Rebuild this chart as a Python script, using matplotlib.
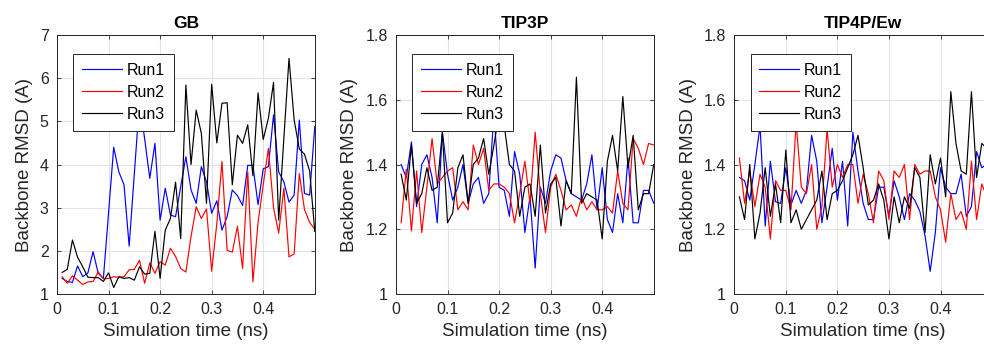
import numpy as np
import matplotlib
matplotlib.use("Agg")
import matplotlib.pyplot as plt

plt.rcParams['font.family'] = ['Liberation Sans', 'DejaVu Sans']

# simulation time (ns), one sample every 0.01 ns
time_ns = [round(0.01 * k, 2) for k in range(1, 51)]

titles = ["GB", "TIP3P", "TIP4P/Ew"]
run_names = ["Run1", "Run2", "Run3"]
run_colors = ["#0000ff", "#ff0000", "#000000"]

# GB
gb_run1 = [1.36, 1.29, 1.27, 1.65, 1.40, 1.49, 1.98, 1.48, 1.36, 2.87,
           4.40, 3.83, 3.53, 2.11, 3.78, 5.45, 4.60, 3.68, 4.49, 2.71,
           3.45, 2.83, 2.79, 3.49, 4.18, 3.41, 3.10, 3.95, 3.60, 2.87,
           3.16, 2.48, 2.79, 3.41, 3.28, 3.05, 3.98, 3.98, 3.07, 3.90,
           3.95, 5.15, 3.83, 3.60, 3.13, 3.29, 5.03, 3.33, 3.29, 4.88]
gb_run2 = [1.40, 1.25, 1.42, 1.32, 1.22, 1.28, 1.29, 1.51, 1.35, 1.36,
           1.40, 1.39, 1.40, 1.56, 1.57, 1.78, 1.25, 1.72, 1.48, 1.75,
           1.67, 2.06, 1.87, 1.59, 1.51, 2.33, 3.02, 2.75, 2.97, 1.53,
           2.63, 4.07, 2.01, 1.97, 2.57, 1.59, 3.83, 1.28, 2.66, 3.53,
           4.37, 3.00, 2.41, 3.45, 1.86, 1.93, 3.79, 2.96, 2.66, 2.50]
gb_run3 = [1.50, 1.57, 2.25, 1.85, 1.63, 1.39, 1.38, 1.38, 1.29, 1.49,
           1.15, 1.40, 1.36, 1.38, 1.32, 1.63, 1.46, 1.48, 2.45, 1.36,
           2.48, 2.75, 3.59, 2.28, 5.84, 4.00, 5.26, 4.72, 3.10, 5.86,
           4.50, 5.42, 5.43, 3.53, 4.68, 4.49, 4.92, 3.74, 5.66, 4.58,
           5.07, 5.90, 2.71, 4.60, 6.46, 5.03, 4.36, 4.24, 3.85, 2.45]

# TIP3P
tip3p_run1 = [1.40, 1.36, 1.47, 1.27, 1.40, 1.43, 1.36, 1.22, 1.50, 1.37,
              1.29, 1.33, 1.40, 1.28, 1.34, 1.36, 1.28, 1.31, 1.56, 1.33,
              1.32, 1.24, 1.44, 1.37, 1.19, 1.30, 1.08, 1.33, 1.28, 1.38,
              1.43, 1.42, 1.35, 1.31, 1.30, 1.29, 1.34, 1.43, 1.26, 1.39,
              1.23, 1.19, 1.31, 1.22, 1.42, 1.22, 1.22, 1.32, 1.32, 1.28]
tip3p_run2 = [1.22, 1.385, 1.195, 1.38, 1.19, 1.33, 1.48, 1.34, 1.36, 1.38,
              1.39, 1.26, 1.285, 1.26, 1.46, 1.40, 1.45, 1.32, 1.34, 1.34,
              1.33, 1.31, 1.22, 1.31, 1.41, 1.28, 1.50, 1.31, 1.19, 1.33,
              1.37, 1.32, 1.26, 1.275, 1.24, 1.30, 1.26, 1.285, 1.26, 1.26,
              1.27, 1.25, 1.38, 1.28, 1.26, 1.48, 1.45, 1.40, 1.465, 1.46]
tip3p_run3 = [1.37, 1.29, 1.46, 1.28, 1.31, 1.39, 1.32, 1.33, 1.50, 1.22,
              1.25, 1.39, 1.43, 1.28, 1.40, 1.42, 1.48, 1.37, 1.46, 1.56,
              1.52, 1.40, 1.38, 1.24, 1.33, 1.34, 1.24, 1.46, 1.25, 1.34,
              1.36, 1.21, 1.35, 1.31, 1.67, 1.28, 1.31, 1.30, 1.29, 1.17,
              1.41, 1.49, 1.38, 1.61, 1.39, 1.49, 1.26, 1.31, 1.31, 1.40]

# TIP4P/Ew
tip4p_run1 = [1.36, 1.35, 1.29, 1.40, 1.52, 1.21, 1.41, 1.285, 1.28, 1.39,
              1.275, 1.32, 1.28, 1.32, 1.49, 1.41, 1.22, 1.33, 1.45, 1.29,
              1.41, 1.21, 1.50, 1.38, 1.28, 1.23, 1.23, 1.33, 1.33, 1.24,
              1.35, 1.30, 1.23, 1.31, 1.29, 1.255, 1.18, 1.07, 1.19, 1.39,
              1.33, 1.31, 1.31, 1.37, 1.24, 1.27, 1.44, 1.39, 1.40, 1.38]
tip4p_run2 = [1.42, 1.28, 1.38, 1.27, 1.37, 1.33, 1.17, 1.35, 1.32, 1.32,
              1.26, 1.53, 1.33, 1.31, 1.40, 1.20, 1.27, 1.51, 1.33, 1.40,
              1.36, 1.40, 1.40, 1.28, 1.37, 1.31, 1.22, 1.38, 1.35, 1.23,
              1.38, 1.36, 1.40, 1.23, 1.40, 1.37, 1.38, 1.38, 1.30, 1.26,
              1.16, 1.31, 1.23, 1.255, 1.20, 1.41, 1.23, 1.34, 1.30, 1.32]
tip4p_run3 = [1.30, 1.23, 1.40, 1.17, 1.25, 1.39, 1.24, 1.34, 1.22, 1.445,
              1.22, 1.26, 1.20, 1.23, 1.26, 1.29, 1.38, 1.23, 1.31, 1.32,
              1.35, 1.39, 1.43, 1.49, 1.39, 1.275, 1.29, 1.34, 1.29, 1.17,
              1.30, 1.22, 1.30, 1.265, 1.39, 1.36, 1.19, 1.43, 1.34, 1.42,
              1.30, 1.625, 1.465, 1.38, 1.37, 1.625, 1.36, 1.465, 1.45, 1.42]

panel_data = [[gb_run1, gb_run2, gb_run3],
              [tip3p_run1, tip3p_run2, tip3p_run3],
              [tip4p_run1, tip4p_run2, tip4p_run3]]
y_limits = [(1, 7), (1, 1.8), (1, 1.8)]
y_ticks = [[1, 2, 3, 4, 5, 6, 7], [1, 1.2, 1.4, 1.6, 1.8], [1, 1.2, 1.4, 1.6, 1.8]]
y_ticklabels = [["1", "2", "3", "4", "5", "6", "7"],
                ["1", "1.2", "1.4", "1.6", "1.8"],
                ["1", "1.2", "1.4", "1.6", "1.8"]]
x_ticks = [0, 0.1, 0.2, 0.3, 0.4]
x_ticklabels = ["0", "0.1", "0.2", "0.3", "0.4"]

fig = plt.figure(figsize=(9.84, 3.54), dpi=100)
lefts = [0.0579, 0.4024, 0.7462]

for p in range(3):
    ax = fig.add_axes([lefts[p], 0.1695, 0.2620, 0.7316])
    for r in range(3):
        ax.plot(time_ns, panel_data[p][r], color=run_colors[r], lw=0.85,
                label=run_names[r])
    ax.set_xlim(0, 0.5)
    ax.set_ylim(*y_limits[p])
    ax.set_xticks(x_ticks)
    ax.set_xticklabels(x_ticklabels)
    ax.set_yticks(y_ticks[p])
    ax.set_yticklabels(y_ticklabels[p])
    ax.grid(True, color="#e3e3e3", lw=0.8)
    ax.set_axisbelow(True)
    ax.tick_params(direction="in", length=3, width=0.6, top=True, right=True,
                   labelsize=11.5, colors="#262626", pad=6)
    for s in ax.spines.values():
        s.set_color("#262626")
        s.set_linewidth(0.7)
    ax.set_title(titles[p], fontsize=12.5, fontweight="bold", pad=5)
    ax.set_xlabel("Simulation time (ns)", fontsize=13.5, color="#262626", labelpad=4)
    ax.set_ylabel("Backbone RMSD (A)", fontsize=13.5, color="#262626", labelpad=5)
    leg = ax.legend(loc="upper left", bbox_to_anchor=(0.063, 0.927), fontsize=11.5,
                    frameon=True, fancybox=False, framealpha=1, edgecolor="#262626",
                    handlelength=2.5, handletextpad=0.3, borderpad=0.55,
                    labelspacing=0.45, borderaxespad=0)
    leg.get_frame().set_linewidth(0.7)

fig.savefig("out.png", dpi=100)
